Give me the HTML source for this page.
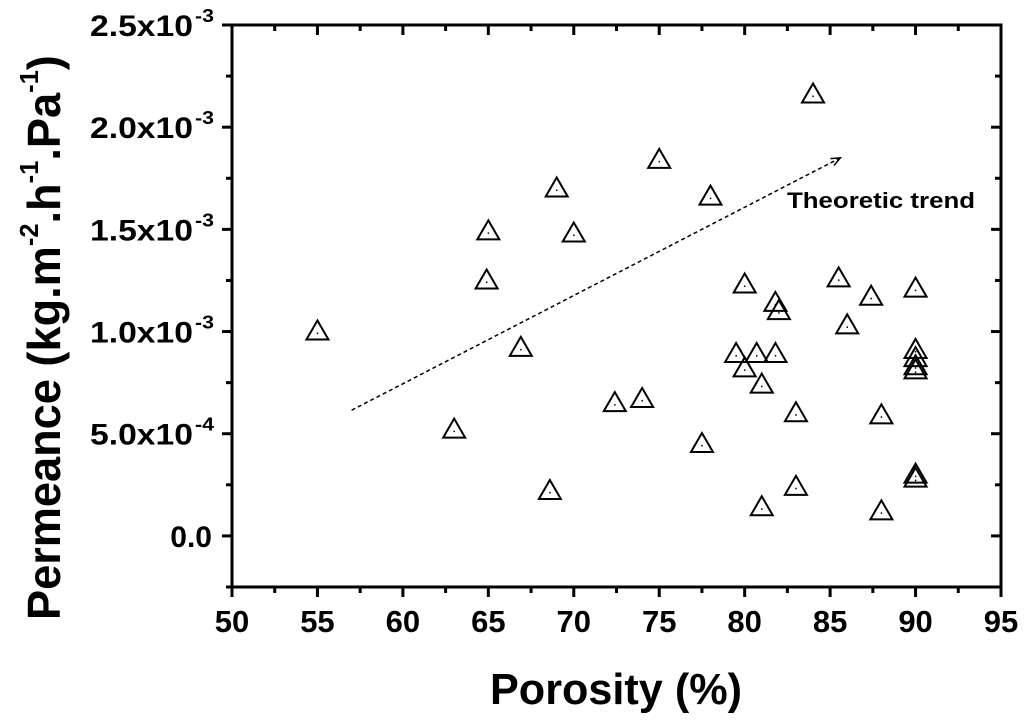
<!DOCTYPE html>
<html><head><meta charset="utf-8"><style>
body{margin:0;background:#fff}
svg{display:block;font-family:"Liberation Sans",Arial,sans-serif;font-weight:bold}
</style></head><body>
<svg id="chart" width="1024" height="726" viewBox="0 0 1024 726">
<g id="axes"></g>
<g id="marks"></g>
<text x="490" y="704" font-size="44" textLength="252" lengthAdjust="spacingAndGlyphs">Porosity (%)</text>
<text id="ytitle" transform="translate(60,620) rotate(-90)" font-size="46">Permeance (kg.m<tspan font-size="26" dy="-22">-2</tspan><tspan dy="22">.h</tspan><tspan font-size="26" dy="-22">-1</tspan><tspan dy="22">.Pa</tspan><tspan font-size="26" dy="-22">-1</tspan><tspan dy="22">)</tspan></text>
<text x="787" y="208" font-size="22" textLength="188" lengthAdjust="spacingAndGlyphs">Theoretic trend</text>
</svg>
<script>
const porosity=[55,63,64.9,65,66.9,69,68.6,70,72.4,74,75,77.5,78,84,79.5,80,80,80.7,81.8,81,81.8,82,81,83,83,85.5,86,87.4,88,88,90,90,90,90,90,90,90];
const permeance=[1.0,0.52,1.25,1.49,0.92,1.70,0.22,1.48,0.65,0.67,1.84,0.45,1.66,2.16,0.89,0.82,1.23,0.89,0.89,0.74,1.14,1.10,0.14,0.60,0.24,1.26,1.03,1.17,0.59,0.12,1.21,0.91,0.87,0.83,0.81,0.30,0.28];
const xTicks=[50,55,60,65,70,75,80,85,90,95];
const yTicks=[0,0.5,1.0,1.5,2.0,2.5];
const yTickLabels=["0.0","5.0x10","1.0x10","1.5x10","2.0x10","2.5x10"];
const yTickExp=["","-4","-3","-3","-3","-3"];
const trendStart=[57,0.615];
const trendEnd=[85.6,1.85];
const L=232,R=1001,T=25,B=587,x0=50,x1=95,y0=-0.25,y1=2.5;
const sx=v=>L+(v-x0)/(x1-x0)*(R-L);
const sy=v=>B-(v-y0)/(y1-y0)*(B-T);
const NS="http://www.w3.org/2000/svg";
function mk(tag,attrs,parent){const e=document.createElementNS(NS,tag);for(const k in attrs)e.setAttribute(k,attrs[k]);parent.appendChild(e);return e;}
const ax=document.getElementById('axes');
const frame=mk('rect',{x:L,y:T,width:R-L,height:B-T,fill:'none',stroke:'#000','stroke-width':3},ax);


xTicks.forEach((v,i)=>{
 const x=sx(v);
 mk('line',{x1:x,y1:B,x2:x,y2:B+10,stroke:'#000','stroke-width':3},ax);
 mk('line',{x1:x,y1:T,x2:x,y2:T+10,stroke:'#000','stroke-width':3},ax);
 if(i<xTicks.length-1){const xm=sx(v+2.5);
  mk('line',{x1:xm,y1:B,x2:xm,y2:B+6,stroke:'#000','stroke-width':3},ax);
  mk('line',{x1:xm,y1:T,x2:xm,y2:T+6,stroke:'#000','stroke-width':3},ax);}
 const t=mk('text',{x:x,y:B+45,'font-size':31,'text-anchor':'middle'},ax);
 t.textContent=v;
 
 
});
yTicks.forEach((v,i)=>{
 const y=sy(v);
 mk('line',{x1:L-10,y1:y,x2:L,y2:y,stroke:'#000','stroke-width':3},ax);
 mk('line',{x1:R-10,y1:y,x2:R,y2:y,stroke:'#000','stroke-width':3},ax);
 const ym=sy(v-0.25);
 mk('line',{x1:L-6,y1:ym,x2:L,y2:ym,stroke:'#000','stroke-width':3},ax);
 mk('line',{x1:R-6,y1:ym,x2:R,y2:ym,stroke:'#000','stroke-width':3},ax);
 let t;
 if(yTickExp[i]){
  t=mk('text',{x:90,y:y+11,'font-size':30,textLength:103,lengthAdjust:'spacingAndGlyphs'},ax);
  const e=mk('text',{x:195,y:y-3,'font-size':18,textLength:19,lengthAdjust:'spacingAndGlyphs'},ax);e.textContent=yTickExp[i];
 } else {
  t=mk('text',{x:212,y:y+11,'font-size':30,'text-anchor':'end'},ax);
 }
 t.textContent=yTickLabels[i];
 
 
});
const mg=document.getElementById('marks');
porosity.forEach((p,i)=>{
 const x=sx(p),y=sy(permeance[i]);
 const tri=mk('polygon',{points:`${x},${y-11} ${x-11},${y+8} ${x+11},${y+8}`,fill:'none',stroke:'#000','stroke-width':2},mg);
 
 
 mk('rect',{x:x-0.7,y:y+1,width:1.5,height:1.5,fill:'#000'},mg);
});
const ln=mk('line',{x1:sx(trendStart[0]),y1:sy(trendStart[1]),x2:sx(trendEnd[0]),y2:sy(trendEnd[1]),stroke:'#000','stroke-width':1.5,'stroke-dasharray':'4,3'},ax);


const ex=sx(trendEnd[0]),ey=sy(trendEnd[1]);
const ang=Math.atan2(ey-sy(trendStart[1]),ex-sx(trendStart[0]));
const a1=ang+Math.PI-0.4,a2=ang+Math.PI+0.4;
mk('polyline',{points:`${ex+10*Math.cos(a1)},${ey+10*Math.sin(a1)} ${ex},${ey} ${ex+10*Math.cos(a2)},${ey+10*Math.sin(a2)}`,fill:'none',stroke:'#000','stroke-width':1.5},ax);
// fit y title length to reference (~565px)
const yt=document.getElementById('ytitle');
const w=yt.getBBox().width;
if(w>0){yt.setAttribute('transform',`translate(60,620) rotate(-90) scale(${565/w},1)`);}
</script>
</body></html>
